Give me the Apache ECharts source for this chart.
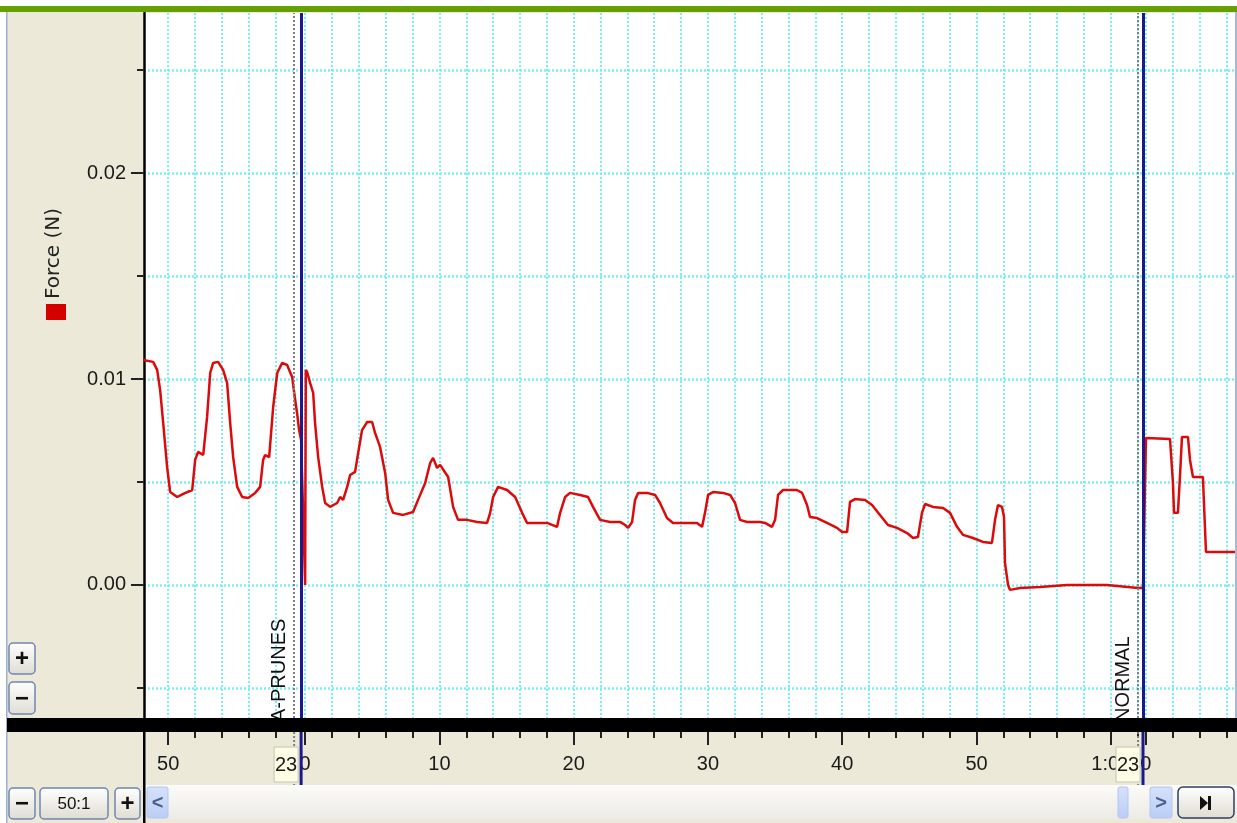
<!DOCTYPE html>
<html>
<head>
<meta charset="utf-8">
<script src="https://cdn.jsdelivr.net/npm/echarts@6/dist/echarts.min.js"></script>
<style>
html, body { margin: 0; padding: 0; background: #fff; }
#main { width: 1237px; height: 823px; }
</style>
</head>
<body>
<div id="main"></div>
<script>
// trace: time in s (0 = start of 2nd block), force in N
const timeS = [
  -12.06, -11.32, -11.02, -10.8, -10.57, -10.28, -10.05, -9.53, -9.08, -8.41,
  -8.19, -7.97, -7.59, -7.3, -7.07, -6.85, -6.48, -6.11, -5.81, -5.58,
  -5.36, -5.06, -4.69, -4.24, -3.72, -3.35, -3.13, -2.98, -2.68, -2.38,
  -2.08, -1.71, -1.34, -0.97, -0.74, -0.6, -0.45, -0.3,
  0, 0.05, 0.15, 0.37, 0.6, 0.74, 0.97, 1.27, 1.49, 1.86, 2.38, 2.61, 2.83,
  3.13, 3.35, 3.72, 3.95, 4.24, 4.62, 4.99, 5.21, 5.58, 5.96, 6.18, 6.55,
  7.3, 8.04, 8.41, 8.94, 9.31, 9.53, 9.83, 10.05, 10.65, 11.02, 11.39,
  12.06, 12.81, 13.55, 13.78, 14.0, 14.37, 15.04, 15.64, 16.16, 16.53,
  17.27, 18.02, 18.76, 18.99, 19.36, 19.73, 20.48, 21.07, 21.44, 21.97,
  22.71, 23.46, 23.83, 24.05, 24.35, 24.57, 24.8, 25.47, 26.06, 26.43,
  26.95, 27.4, 28.44, 29.19, 29.56, 29.78, 30.01, 30.38, 31.12, 31.65,
  32.02, 32.39, 32.91, 33.88, 34.25, 34.77, 35.0, 35.22, 35.59, 36.63,
  37.01, 37.38, 37.6, 38.12, 38.87, 39.61, 39.99, 40.36, 40.58, 40.95,
  41.7, 42.22, 42.81, 43.41, 44.08, 44.83, 45.27, 45.64, 45.94, 46.17,
  46.76, 47.51, 48.03, 48.55, 49.0, 49.74, 50.48, 51.15, 51.38, 51.6,
  51.9, 52.05, 52.12, 52.35, 52.49, 53.24, 54.73, 56.74, 59.72, 62.03,
  62.4, 62.62, 64.41, 64.63, 64.71, 65.0, 65.15, 65.3, 65.75, 65.9,
  66.12, 66.86, 67.09, 69.4
];
const forceN = [
  0.01092, 0.01083, 0.01044, 0.00947, 0.00786, 0.00573, 0.00451, 0.00427, 0.00442, 0.00461,
  0.00607, 0.00646, 0.00631, 0.00816, 0.01029, 0.01078, 0.01083, 0.01044, 0.00981, 0.00786,
  0.00621, 0.00476, 0.00427, 0.00422, 0.00447, 0.00476, 0.00607, 0.00631, 0.00621, 0.00864,
  0.01029, 0.01078, 0.01068, 0.0101, 0.00898, 0.00835, 0.00752, 0.00704,
  0, 0.01044, 0.01034, 0.00981, 0.00932, 0.00786, 0.00621, 0.00476, 0.00398, 0.00379, 0.00398, 0.00427, 0.00413,
  0.00476, 0.00534, 0.00549, 0.00641, 0.00752, 0.00791, 0.00791, 0.00738, 0.0067, 0.00544, 0.00413, 0.0035,
  0.0034, 0.00354, 0.00413, 0.00495, 0.00592, 0.00617, 0.00568, 0.00583, 0.00524, 0.00379, 0.00316,
  0.00316, 0.00306, 0.00301, 0.0035, 0.00427, 0.00476, 0.00461, 0.00427, 0.0035, 0.00301,
  0.00301, 0.00301, 0.00282, 0.0035, 0.00427, 0.00447, 0.00437, 0.00427, 0.00379, 0.00316,
  0.00306, 0.00306, 0.00291, 0.00277, 0.00306, 0.00413, 0.00447, 0.00447, 0.00437, 0.00398,
  0.00325, 0.00301, 0.00301, 0.00301, 0.00282, 0.0035, 0.00437, 0.00451, 0.00447, 0.00437,
  0.00398, 0.00316, 0.00306, 0.00306, 0.00301, 0.00282, 0.00316, 0.00437, 0.00461, 0.00461,
  0.00447, 0.00388, 0.0033, 0.00325, 0.00301, 0.00277, 0.00257, 0.00257, 0.00403, 0.00417,
  0.00413, 0.00388, 0.0034, 0.00291, 0.00277, 0.00252, 0.00228, 0.00233, 0.0035, 0.00393,
  0.00379, 0.00374, 0.0035, 0.00282, 0.00243, 0.00228, 0.00209, 0.00204, 0.00316, 0.00388,
  0.00379, 0.0033, 0.00107, 0, -0.00024, -0.00015, -0.0001, 0, 0, -0.00015,
  -0.00015, 0.00714, 0.00709, 0.00495, 0.0035, 0.0035, 0.00524, 0.00718, 0.00718, 0.00607,
  0.00524, 0.00524, 0.0016, 0.0016
];

// x axis: minor ticks every 2 s, shifted per block
const block1Ticks = [-10.2, -8.2, -6.2, -4.2, -2.2];
const block2Start = 0, block2End = 62;
const block3Ticks = [62.6, 64.6, 66.6, 68.6];
const majorTicks = [-10.2, 0, 10, 20, 30, 40, 50, 60, 62.6];
const majorLabels = ['50', '0', '10', '20', '30', '40', '50', '1:00', '0'];

const yTicks = [-0.005, 0, 0.005, 0.01, 0.015, 0.02, 0.025];
const yLabelTicks = [0, 0.01, 0.02];

const commentAt = [-0.82, 62.03];
const commentText = ['A-PRUNES', 'NORMAL'];
const blockAt = [-0.3, 62.4];
const blockTag = ['23', '23'];

const X_MIN = -12, X_MAX = 69.4;
const Y_MIN = -0.00646, Y_MAX = 0.02777;

let gridTicks = block1Ticks.slice();
for (let t = block2Start; t <= block2End; t += 2) gridTicks.push(t);
gridTicks = gridTicks.concat(block3Ticks);

const numFont = 'Liberation Sans, Arial, sans-serif';
const gridColor = '#7eeef5';

const chart = echarts.init(document.getElementById('main'));

const marks = commentAt.map(v => ({
  xAxis: v, lineStyle: { color: '#808080', width: 2, type: [2, 2] }
})).concat(blockAt.map(v => ({
  xAxis: v, lineStyle: { color: '#1a1a8e', width: 3, type: 'solid' }
})));

chart.setOption({
  animation: false,
  backgroundColor: '#ECE9D8',
  grid: {
    left: 144, right: 0, top: 13, bottom: 105,
    show: true, backgroundColor: '#ffffff', borderWidth: 0
  },
  xAxis: [{
    type: 'value', min: X_MIN, max: X_MAX, position: 'bottom',
    axisLine: { show: false, onZero: false },
    axisTick: { show: true, length: 20, customValues: gridTicks, lineStyle: { color: '#222', width: 2 } },
    axisLabel: { show: false },
    splitLine: { show: true, lineStyle: { color: gridColor, width: 2, type: [2, 2] } }
  }, {
    type: 'value', min: X_MIN, max: X_MAX, position: 'bottom',
    axisLine: { show: false, onZero: false },
    axisTick: { show: true, length: 27, customValues: majorTicks, lineStyle: { color: '#222', width: 2 } },
    axisLabel: {
      show: true, customValues: majorTicks, margin: 36,
      fontFamily: numFont, fontSize: 20, color: '#1a1a1a',
      formatter: v => {
        const i = majorTicks.findIndex(m => Math.abs(m - v) < 1e-6);
        return i >= 0 ? majorLabels[i] : '';
      }
    },
    splitLine: { show: false }
  }],
  yAxis: [{
    type: 'value', min: Y_MIN, max: Y_MAX, position: 'left',
    axisLine: { show: true, onZero: false, lineStyle: { color: '#000', width: 2.5 } },
    axisTick: { show: true, length: 7, customValues: yTicks, lineStyle: { color: '#222', width: 2 } },
    axisLabel: { show: false },
    splitLine: { show: true, lineStyle: { color: gridColor, width: 2.5, type: [2, 2] } }
  }, {
    type: 'value', min: Y_MIN, max: Y_MAX, position: 'left',
    axisLine: { show: false, onZero: false },
    axisTick: { show: true, length: 13, customValues: yLabelTicks, lineStyle: { color: '#222', width: 2 } },
    axisLabel: {
      show: true, customValues: yLabelTicks, margin: 18,
      fontFamily: numFont, fontSize: 20, color: '#1a1a1a',
      formatter: v => v.toFixed(2)
    },
    splitLine: { show: false }
  }],
  series: [{
    name: 'Force (N)',
    type: 'line',
    xAxisIndex: 0, yAxisIndex: 0,
    data: timeS.map((t, i) => [t, forceN[i]]),
    showSymbol: false,
    symbol: 'none',
    lineStyle: { color: '#dc0a0a', width: 2.5 },
    clip: true,
    z: 3,
    markLine: {
      silent: true, symbol: ['none', 'none'], label: { show: false },
      animation: false, data: marks
    }
  }]
});

// decorations around the plot (panels, band, markers, buttons)
const px = v => chart.convertToPixel({ xAxisIndex: 0 }, v);
const btnFill = new echarts.graphic.LinearGradient(0, 0, 0, 1, [
  { offset: 0, color: '#ffffff' }, { offset: 1, color: '#dedcd2' }
]);
const g = [];

g.push({ type: 'rect', shape: { x: 0, y: 0, width: 1237, height: 6 }, style: { fill: '#ffffff' }, z: 50 });
g.push({ type: 'rect', shape: { x: 0, y: 6, width: 1237, height: 6 }, style: { fill: '#64a000' }, z: 50 });
g.push({ type: 'rect', shape: { x: 0, y: 12, width: 7, height: 811 }, style: { fill: '#ffffff' }, z: 50 });
g.push({ type: 'rect', shape: { x: 6, y: 12, width: 1.5, height: 811 }, style: { fill: '#9fb0cc' }, z: 51 });
g.push({ type: 'rect', shape: { x: 1235, y: 12, width: 2, height: 706 }, style: { fill: '#a8b8d6' }, z: 51 });

// marker lines running down through the time-label strip
commentAt.forEach(v => {
  const x = px(v);
  g.push({ type: 'line', shape: { x1: x, y1: 732, x2: x, y2: 785 }, style: { stroke: '#808080', lineWidth: 2, lineDash: [2, 2] }, z: 60 });
});
blockAt.forEach((v, i) => {
  const x = px(v);
  g.push({ type: 'rect', shape: { x: x - 1.5, y: 732, width: 3, height: 53 }, style: { fill: '#1a1a8e' }, z: 62 });
  g.push({
    type: 'rect', shape: { x: x - 27, y: 747, width: 24, height: 35 },
    style: { fill: '#fdfde6', stroke: '#c4c4b4', lineWidth: 1 }, z: 61
  });
  g.push({
    type: 'text', x: x - 15, y: 765, z: 63,
    style: { text: blockTag[i], fontFamily: numFont, fontSize: 20, fill: '#1a1a1a', align: 'center', verticalAlign: 'middle' }
  });
});

// comment texts, written upward along the dotted lines
commentAt.forEach((v, i) => {
  const x = px(v);
  g.push({
    type: 'text', x: x - 5, y: 722, rotation: Math.PI / 2, z: 40,
    style: { text: commentText[i], fontFamily: numFont, fontSize: 20, fill: '#111', align: 'left', verticalAlign: 'bottom' }
  });
});

// thick time axis band and the y axis line continuing below
g.push({ type: 'rect', shape: { x: 7, y: 718, width: 1230, height: 14 }, style: { fill: '#000' }, z: 70 });
g.push({ type: 'rect', shape: { x: 143, y: 732, width: 2.5, height: 91 }, style: { fill: '#000' }, z: 70 });

// channel title
g.push({
  type: 'text', x: 64, y: 299, rotation: Math.PI / 2, z: 40,
  style: { text: 'Force (N)', fontFamily: 'DejaVu Sans, sans-serif', fontSize: 20, fill: '#222', align: 'left', verticalAlign: 'bottom' }
});
g.push({ type: 'rect', shape: { x: 46, y: 304, width: 20, height: 16 }, style: { fill: '#d40000' }, z: 40 });

function button(x, y, w, h, label, size, bold) {
  g.push({
    type: 'rect', shape: { x: x, y: y, width: w, height: h, r: 4 },
    style: { fill: btnFill, stroke: '#6f86ae', lineWidth: 1.5 }, z: 80
  });
  g.push({
    type: 'text', x: x + w / 2, y: y + h / 2 + 1, z: 81,
    style: { text: label, fontFamily: numFont, fontSize: size, fontWeight: bold ? 'bold' : 'normal', fill: '#111', align: 'center', verticalAlign: 'middle' }
  });
}
button(9, 643, 26, 31, '+', 24, true);
button(9, 682, 26, 32, '\u2212', 24, true);

// bottom scroll row
g.push({
  type: 'rect', shape: { x: 146, y: 785, width: 1091, height: 34 }, z: 75,
  style: { fill: new echarts.graphic.LinearGradient(0, 0, 0, 1, [
    { offset: 0, color: '#fbfbf9' }, { offset: 1, color: '#ecebe6' }
  ]) }
});
button(9, 788, 26, 31, '\u2212', 24, true);
button(40, 788, 68, 31, '50:1', 17, false);
button(115, 788, 25, 31, '+', 24, true);

const arrowFill = new echarts.graphic.LinearGradient(0, 0, 0, 1, [
  { offset: 0, color: '#d6e2fb' }, { offset: 1, color: '#b9cdf6' }
]);
g.push({ type: 'rect', shape: { x: 147, y: 787, width: 21, height: 31, r: 2 }, style: { fill: arrowFill, stroke: '#b4c6ec' }, z: 80 });
g.push({ type: 'text', x: 157.5, y: 803, z: 81, style: { text: '<', fontFamily: numFont, fontSize: 20, fontWeight: 'bold', fill: '#4a5f8e', align: 'center', verticalAlign: 'middle' } });
g.push({ type: 'rect', shape: { x: 1118, y: 787, width: 10, height: 31, r: 2 }, style: { fill: arrowFill, stroke: '#b4c6ec' }, z: 80 });
g.push({ type: 'rect', shape: { x: 1150, y: 787, width: 22, height: 31, r: 2 }, style: { fill: arrowFill, stroke: '#b4c6ec' }, z: 80 });
g.push({ type: 'text', x: 1161, y: 803, z: 81, style: { text: '>', fontFamily: numFont, fontSize: 20, fontWeight: 'bold', fill: '#4a5f8e', align: 'center', verticalAlign: 'middle' } });

g.push({
  type: 'rect', shape: { x: 1178, y: 787, width: 56, height: 31, r: 5 },
  style: { fill: btnFill, stroke: '#2f3f60', lineWidth: 1.5 }, z: 80
});
g.push({ type: 'polygon', shape: { points: [[1200, 796], [1200, 810], [1208, 803]] }, style: { fill: '#111' }, z: 81 });
g.push({ type: 'rect', shape: { x: 1208, y: 796, width: 3, height: 14 }, style: { fill: '#111' }, z: 81 });

chart.setOption({ graphic: g });
</script>
</body>
</html>
